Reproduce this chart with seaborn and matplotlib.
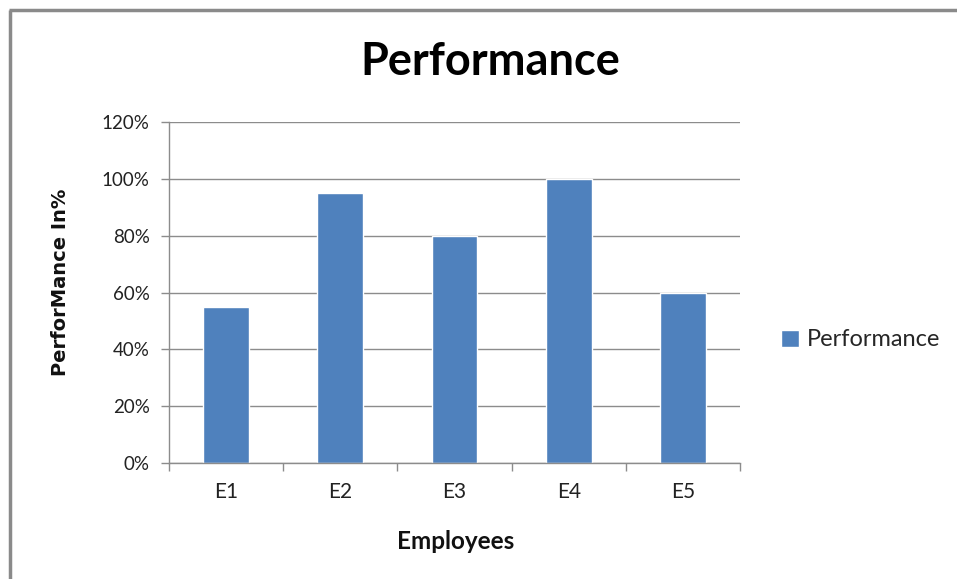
import matplotlib
matplotlib.use("Agg")
import matplotlib.pyplot as plt
import seaborn as sns
import pandas as pd
from matplotlib.lines import Line2D
from matplotlib.ticker import FuncFormatter, MultipleLocator

employees = ["E1", "E2", "E3", "E4", "E5"]
performance = [55, 95, 80, 100, 60]
series_name = "Performance"

df = pd.DataFrame({"Employee": employees, "Value": performance, "Series": series_name})

sns.set_theme(style="white")
plt.rcParams["font.family"] = ["Lato", "DejaVu Sans"]

W, H = 957, 579
fig = plt.figure(figsize=(W / 100, H / 100), dpi=100)
ax = fig.add_axes([169 / W, 1 - 463 / H, 571 / W, 341 / H])

bar_color = "#4F81BD"
sns.barplot(data=df, x="Employee", y="Value", hue="Series", palette=[bar_color],
            width=0.4, ax=ax, legend=True, saturation=1)

ax.set_ylim(0, 120)
ax.set_xlim(-0.5, 4.5)
ax.yaxis.set_major_locator(MultipleLocator(20))
ax.yaxis.set_major_formatter(FuncFormatter(lambda v, p: f"{int(v)}%"))
ax.grid(axis="y", color="#8c8c8c", linewidth=1)
ax.set_axisbelow(True)
for s in ["top", "right"]:
    ax.spines[s].set_visible(False)
for s in ["left", "bottom"]:
    ax.spines[s].set_color("#8c8c8c")
    ax.spines[s].set_linewidth(1)

ax.set_xticks(range(5))
ax.set_xticklabels(employees)
ax.set_xticks([i - 0.5 for i in range(6)], minor=True)
ax.tick_params(axis="x", which="major", length=0, pad=14, labelsize=15, colors="#222222")
ax.tick_params(axis="x", which="minor", length=6, color="#8c8c8c", width=1, direction="out", bottom=True)
ax.tick_params(axis="y", which="major", length=6, color="#8c8c8c", width=1, direction="out", left=True,
               labelsize=13.5, labelcolor="#222222", pad=8)

ax.set_xlabel("Employees", fontsize=17.5, fontweight="bold", color="#111111")
ax.xaxis.set_label_coords((456 - 169) / 571, (463 - 530) / 341)
ax.set_ylabel("PerforMance In%", fontsize=14, fontweight="bold", color="#111111",
              family=["DejaVu Sans"])
ax.yaxis.set_label_coords((70 - 169) / 571, (463 - 282) / 341)

fig.text(490 / W, 1 - 62 / H, "Performance", ha="center", va="center", fontsize=32.5,
         fontweight="bold", color="#000000")

handles, labels = ax.get_legend_handles_labels()
ax.legend(handles, labels, loc="center left", bbox_to_anchor=(1.035, (463 - 340) / 341), frameon=False,
          fontsize=17, handlelength=0.75, handleheight=0.75, handletextpad=0.35)

# outer frame (left and top edges)
fig.add_artist(Line2D([10 / W, 10 / W], [0, 1 - 10 / H], transform=fig.transFigure,
                      color="#8a8a8a", linewidth=2.5, solid_capstyle="butt"))
fig.add_artist(Line2D([9 / W, 1.01], [1 - 10 / H, 1 - 10 / H], transform=fig.transFigure,
                      color="#8a8a8a", linewidth=2.5, solid_capstyle="butt"))

fig.savefig("out.png", dpi=100)
